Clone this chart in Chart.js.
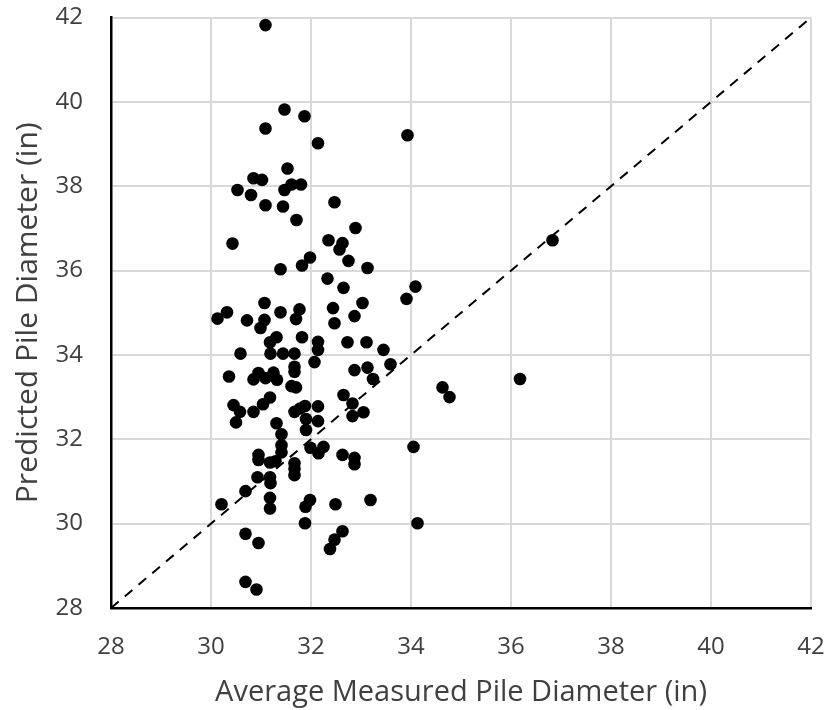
<!DOCTYPE html>
<html>
<head>
<meta charset="utf-8">
<script src="https://cdn.jsdelivr.net/npm/chart.js@4"></script>
<style>
  html, body { margin: 0; padding: 0; background: #fff; }
  #wrap { width: 827px; height: 710px; }
</style>
</head>
<body>
<div id="wrap"><canvas id="c" width="827" height="710"></canvas></div>
<script>
// Average measured pile diameter (in)
const measured = [
  31.09, 31.47, 31.87, 31.09, 32.14, 33.93, 31.53, 30.85, 31.02, 30.53,
  30.80, 31.47, 31.61, 31.80, 31.09, 31.44, 32.47, 31.71, 32.89, 30.43,
  32.35, 32.63, 32.57, 31.98, 32.75, 31.82, 31.39, 33.13, 32.33, 32.65,
  36.83, 34.09, 33.91, 31.07, 30.32, 30.13, 31.39, 31.77, 31.70, 32.44,
  33.03, 30.72, 31.07, 30.99, 32.47, 32.87, 31.31, 31.18, 31.82, 32.14,
  32.14, 32.73, 33.11, 33.45, 30.59, 31.19, 31.44, 31.67, 32.07, 33.59,
  31.67, 31.67, 32.87, 33.13, 33.24, 30.36, 30.95, 30.85, 31.09, 31.25,
  31.32, 31.61, 31.70, 32.65, 32.83, 32.83, 33.05, 30.45, 30.58, 30.50,
  30.85, 31.04, 31.18, 31.67, 31.78, 31.88, 32.14, 31.90, 32.14, 31.90,
  31.31, 31.41, 31.41, 31.41, 30.95, 30.95, 31.18, 31.29, 31.67, 31.67,
  31.67, 31.99, 32.15, 32.25, 32.63, 32.87, 32.87, 30.93, 31.18, 31.19,
  30.69, 30.21, 31.18, 31.18, 31.98, 31.89, 32.49, 33.19, 31.88, 30.69,
  30.95, 32.63, 32.47, 32.38, 30.69, 30.91, 36.18, 34.63, 34.77, 34.05,
  34.13
];
// Predicted pile diameter (in)
const predicted = [
  41.82, 39.82, 39.66, 39.37, 39.02, 39.21, 38.42, 38.19, 38.15, 37.91,
  37.79, 37.91, 38.04, 38.04, 37.55, 37.52, 37.62, 37.20, 37.01, 36.64,
  36.72, 36.65, 36.50, 36.31, 36.23, 36.12, 36.03, 36.06, 35.81, 35.59,
  36.72, 35.62, 35.33, 35.23, 35.01, 34.86, 35.01, 35.08, 34.85, 35.11,
  35.23, 34.82, 34.83, 34.64, 34.75, 34.92, 34.42, 34.30, 34.42, 34.31,
  34.12, 34.30, 34.30, 34.12, 34.03, 34.03, 34.03, 34.03, 33.83, 33.78,
  33.72, 33.60, 33.64, 33.70, 33.43, 33.49, 33.57, 33.42, 33.45, 33.58,
  33.41, 33.26, 33.23, 33.05, 32.85, 32.55, 32.64, 32.81, 32.65, 32.40,
  32.65, 32.83, 32.99, 32.65, 32.73, 32.79, 32.78, 32.48, 32.43, 32.22,
  32.38, 32.12, 31.86, 31.69, 31.63, 31.51, 31.45, 31.48, 31.43, 31.30,
  31.15, 31.80, 31.67, 31.82, 31.63, 31.56, 31.41, 31.10, 31.10, 30.96,
  30.77, 30.46, 30.61, 30.36, 30.56, 30.40, 30.46, 30.56, 30.01, 29.76,
  29.54, 29.82, 29.62, 29.40, 28.62, 28.44, 33.43, 33.23, 33.00, 31.82,
  30.01
];
// 1:1 reference line
const lineX = [28, 42];
const lineY = [28, 42];
// Axis tick settings
const axisMin = 28;
const axisMax = 42;
const axisStep = 2;

const points = measured.map((x, i) => ({ x: x, y: predicted[i] }));
const diag = lineX.map((x, i) => ({ x: x, y: lineY[i] }));

const tickFont = { family: "'Open Sans', sans-serif", size: 24 };
const textColor = '#404040';

new Chart(document.getElementById('c'), {
  type: 'scatter',
  data: {
    datasets: [
      {
        type: 'line',
        data: diag,
        borderColor: '#000',
        borderWidth: 2,
        borderDash: [10, 8],
        pointRadius: 0,
        fill: false,
        order: 2
      },
      {
        data: points,
        backgroundColor: '#000',
        borderWidth: 0,
        pointRadius: 6.3,
        pointHoverRadius: 6.3,
        order: 1
      }
    ]
  },
  options: {
    responsive: false,
    animation: false,
    events: [],
    layout: { padding: { top: 17.5, right: 16, left: 0, bottom: 0 } },
    plugins: { legend: { display: false }, tooltip: { enabled: false } },
    scales: {
      x: {
        type: 'linear',
        min: axisMin, max: axisMax,
        afterFit: (s) => { s.height = 102; s.paddingLeft = 0; s.paddingRight = 0; },
        ticks: { stepSize: axisStep, font: tickFont, color: textColor, padding: 25 },
        grid: { color: '#d9d9d9', lineWidth: 2, drawTicks: false },
        border: { color: '#000', width: 2.5 },
        title: {
          display: true, text: 'Average Measured Pile Diameter (in)',
          font: { family: "'Open Sans', sans-serif", size: 29 },
          color: textColor, padding: { top: 0, bottom: 0 }
        }
      },
      y: {
        type: 'linear',
        min: axisMin, max: axisMax,
        afterFit: (s) => { s.width = 111; s.paddingTop = 0; s.paddingBottom = 0; },
        ticks: { stepSize: axisStep, font: tickFont, color: textColor, padding: 28 },
        grid: { color: '#d9d9d9', lineWidth: 2, drawTicks: false },
        border: { color: '#000', width: 2.5 },
        title: {
          display: true, text: 'Predicted Pile Diameter (in)',
          font: { family: "'Open Sans', sans-serif", size: 30 },
          color: textColor, padding: { top: 10, bottom: 0 }
        }
      }
    }
  }
});
</script>
</body>
</html>
